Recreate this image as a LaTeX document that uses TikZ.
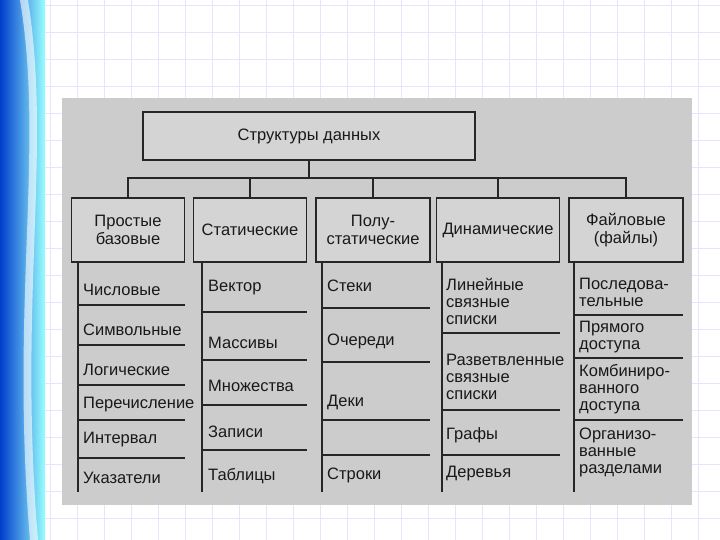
\documentclass[tikz,border=0pt]{standalone}
\usepackage{fontspec}
\setmainfont{Liberation Sans}
\begin{document}
\begin{tikzpicture}[x=1pt,y=-1pt,
  hbox/.style={draw=black!85,line width=1.6pt,fill=black!17,align=center,font=\fontsize{16.5}{18}\selectfont,text=black!90,inner sep=1pt},
  item/.style={anchor=west,align=left,font=\fontsize{16.5}{17}\selectfont,text=black!90,inner sep=1pt},
  ln/.style={draw=black!85,line width=1.4pt}]
\useasboundingbox (0,0) rectangle (720,540);
\fill[white] (0,0) rectangle (720,540);
\foreach \x in {50,77,...,720} \draw[blue!10,line width=0.5pt] (\x,0) -- (\x,540);
\foreach \y in {5,32,...,540} \draw[blue!10,line width=0.5pt] (45,\y) -- (720,\y);
\shade[left color=blue!70!cyan!80!black,right color=cyan!40] (0,0) rectangle (45,540);
\fill[white,opacity=0.6] (20,0) .. controls (45,150) and (10,300) .. (30,540) -- (38,540) .. controls (18,300) and (52,150) .. (28,0) -- cycle;
\fill[black!20] (62,98) rectangle (692,505);
% top
\node[hbox,minimum width=332pt,minimum height=48pt] (top) at (309,136) {Структуры данных};
\coordinate (hl) at (127,178); \coordinate (hr) at (627,178);
\draw[ln] (top.south) -- (309,178);
\draw[ln] (hl) -- (hr);
\node[hbox,minimum width=113pt,minimum height=64pt] (c1) at (128,230) {Простые\\базовые};
\node[hbox,minimum width=113pt,minimum height=64pt] (c2) at (250,230) {Статические};
\node[hbox,minimum width=114pt,minimum height=64pt] (c3) at (373,230) {Полу-\\статические};
\node[hbox,minimum width=123pt,minimum height=64pt] (c4) at (498,230) {Динамические};
\node[hbox,minimum width=114pt,minimum height=64pt] (c5) at (626,230) {Файловые\\(файлы)};
\foreach \c/\x in {c1/128,c2/250,c3/373,c4/498,c5/626} \draw[ln] (\x,178) -- (\c.north);
% columns
\draw[ln] (78,262) -- (78,492);
\foreach \y in {305,345,385,420,458} \draw[ln] (78,\y) -- (185,\y);
\node[item] (a1) at (82,290) {Числовые};
\node[item] (a2) at (82,330) {Символьные};
\node[item] (a3) at (82,370) {Логические};
\node[item] (a4) at (82,405) {Перечисление};
\node[item] (a5) at (82,440) {Интервал};
\node[item] (a6) at (82,478) {Указатели};
\draw[ln] (202,262) -- (202,492);
\foreach \y in {312,360,405,450} \draw[ln] (202,\y) -- (307,\y);
\node[item] (b1) at (207,288) {Вектор};
\node[item] (b2) at (207,343) {Массивы};
\node[item] (b3) at (207,386) {Множества};
\node[item] (b4) at (207,432) {Записи};
\node[item] (b5) at (207,476) {Таблицы};
\draw[ln] (322,262) -- (322,492);
\foreach \y in {308,362,420,455} \draw[ln] (322,\y) -- (430,\y);
\node[item] (d1) at (326,286) {Стеки};
\node[item] (d2) at (326,341) {Очереди};
\node[item] (d3) at (326,402) {Деки};
\node[item] (d4) at (326,475) {Строки};
\draw[ln] (442,262) -- (442,492);
\foreach \y in {333,410,455} \draw[ln] (442,\y) -- (560,\y);
\node[item] (e1) at (445,301) {Линейные\\связные\\списки};
\node[item] (e2) at (445,377) {Разветвленные\\связные\\списки};
\node[item] (e3) at (445,435) {Графы};
\node[item] (e4) at (445,474) {Деревья};
\draw[ln] (574,262) -- (574,492);
\foreach \y in {315,358,420} \draw[ln] (574,\y) -- (683,\y);
\node[item] (f1) at (578,292) {Последова-\\тельные};
\node[item] (f2) at (578,337) {Прямого\\доступа};
\node[item] (f3) at (578,389) {Комбиниро-\\ванного\\доступа};
\node[item] (f4) at (578,452) {Организо-\\ванные\\разделами};
\end{tikzpicture}
\end{document}
